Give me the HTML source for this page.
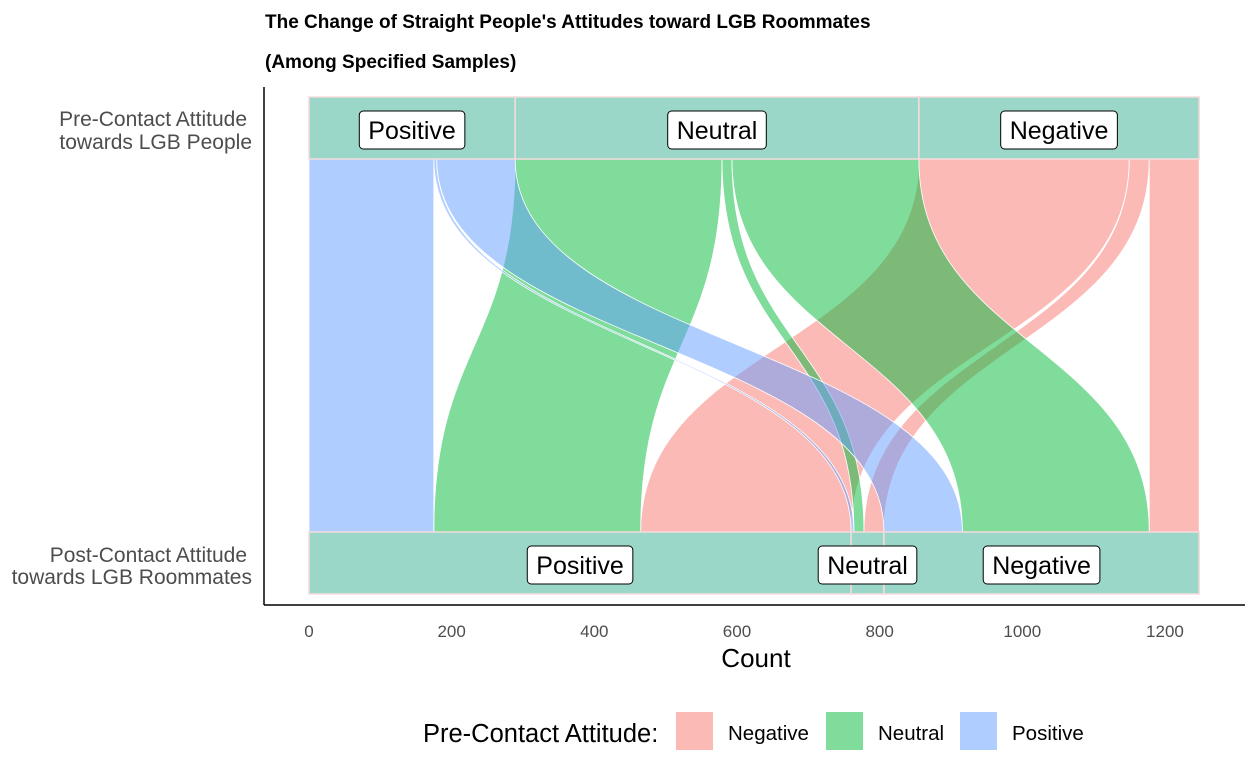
<!DOCTYPE html>
<html><head><meta charset="utf-8"><style>
body{margin:0;background:#fff;}
svg text{font-family:"Liberation Sans",sans-serif;}
</style></head><body>
<svg id="chart" width="1259" height="778">
<text x="265" y="28" font-size="19" font-weight="bold">The Change of Straight People's Attitudes toward LGB Roommates</text>
<text x="265" y="68" font-size="19" font-weight="bold">(Among Specified Samples)</text>
<g id="flows"></g>
<g id="strata"></g>
<line x1="264" y1="87" x2="264" y2="605" stroke="#000" stroke-width="1.5"/>
<line x1="264" y1="605" x2="1245" y2="605" stroke="#000" stroke-width="1.5"/>
<g font-size="21" fill="#4d4d4d" text-anchor="end">
<text x="247" y="126">Pre-Contact Attitude</text>
<text x="252" y="149">towards LGB People</text>
<text x="247" y="562">Post-Contact Attitude</text>
<text x="252" y="584">towards LGB Roommates</text>
</g>
<g id="xticks" font-size="17" fill="#4d4d4d" text-anchor="middle"></g>
<text x="756" y="667" font-size="26" text-anchor="middle">Count</text>
<g>
<text x="423" y="742" font-size="25.5">Pre-Contact Attitude:</text>
<rect x="676" y="712" width="37" height="38" fill="#FBBAB6"/>
<text x="728" y="740" font-size="20.5">Negative</text>
<rect x="826" y="712" width="37" height="38" fill="#80DC9B"/>
<text x="878" y="740" font-size="20.5">Neutral</text>
<rect x="960" y="712" width="37" height="38" fill="#B0CDFF"/>
<text x="1012" y="740" font-size="20.5">Positive</text>
</g>
</svg>
<script>
const groups = ["Positive","Neutral","Negative"];
// flows[pre][post]
const fromPositive = [175, 4, 110];
const fromNeutral = [290, 14, 262];
const fromNegative = [295, 28, 70];
const xTicks = [0,200,400,600,800,1000,1200];

const NS="http://www.w3.org/2000/svg";
const X0=309, K=0.7133;
const sx=v=>X0+v*K;
const TOP=159, BOT=532;
const colors={Positive:"#619CFF",Neutral:"#00BA38",Negative:"#F8766D"};
const M=[fromPositive,fromNeutral,fromNegative];
function mk(tag,attrs,parent){const e=document.createElementNS(NS,tag);for(const k in attrs)e.setAttribute(k,attrs[k]);parent.appendChild(e);return e;}

const topStart=[[],[],[]]; let acc=0;
for(let i=0;i<3;i++)for(let j=0;j<3;j++){topStart[i][j]=acc;acc+=M[i][j];}
const botStart=[[],[],[]]; acc=0;
for(let j=0;j<3;j++)for(let i=0;i<3;i++){botStart[i][j]=acc;acc+=M[i][j];}

const fg=document.getElementById('flows');
const mid=(TOP+BOT)/2;
for(let i=2;i>=0;i--)for(let j=0;j<3;j++){
  const a0=sx(topStart[i][j]),a1=sx(topStart[i][j]+M[i][j]);
  const b0=sx(botStart[i][j]),b1=sx(botStart[i][j]+M[i][j]);
  const p=mk('path',{d:`M${a0},${TOP} C${a0},${mid} ${b0},${mid} ${b0},${BOT} L${b1},${BOT} C${b1},${mid} ${a1},${mid} ${a1},${TOP} Z`,
    fill:colors[groups[i]],'fill-opacity':0.5,stroke:'#fff','stroke-width':0.8},fg);
  
  
}
const sg=document.getElementById('strata');
function stratum(x0,x1,y,name){
  const r=mk('rect',{x:x0,y:y,width:x1-x0,height:62,fill:'#9AD7C8',stroke:'#F6DCDC','stroke-width':1.5},sg);
  
  
}
function label(cx,cy,txt,name){
  const b=mk('rect',{x:cx-50,y:cy-19,width:100,height:38,rx:4,fill:'#fff',stroke:'#000','stroke-width':1},sg);
  
  
  const t=mk('text',{x:cx,y:cy+9,'font-size':25,'text-anchor':'middle'},sg);
  t.textContent=txt;
  
  
  const w=t.getComputedTextLength()+18;
  b.setAttribute('x',cx-w/2);b.setAttribute('width',w);
}
let preTot=M.map(r=>r.reduce((a,b)=>a+b,0));
let postTot=[0,1,2].map(j=>M[0][j]+M[1][j]+M[2][j]);
acc=0;
for(let i=0;i<3;i++){stratum(sx(acc),sx(acc+preTot[i]),97,'pre-stratum-'+groups[i].toLowerCase());acc+=preTot[i];}
acc=0;
for(let j=0;j<3;j++){stratum(sx(acc),sx(acc+postTot[j]),532,'post-stratum-'+groups[j].toLowerCase());acc+=postTot[j];}
acc=0;
for(let i=0;i<3;i++){label((sx(acc)+sx(acc+preTot[i]))/2,130,groups[i],'pre-label-'+groups[i].toLowerCase());acc+=preTot[i];}
acc=0;
for(let j=0;j<3;j++){label((sx(acc)+sx(acc+postTot[j]))/2,565,groups[j],'post-label-'+groups[j].toLowerCase());acc+=postTot[j];}

const xg=document.getElementById('xticks');
xTicks.forEach(v=>{const t=mk('text',{x:sx(v),y:637},xg);t.textContent=v;
  
  });
</script>
</body></html>
